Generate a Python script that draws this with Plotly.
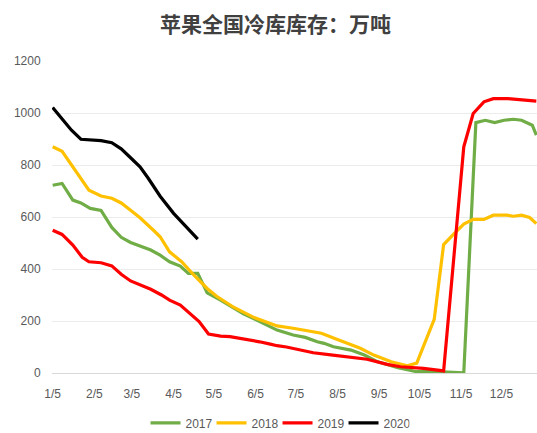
import plotly.graph_objects as go

YEAR = "2021"

dates_2017 = ["01-05", "01-12", "01-20", "01-26", "02-02", "02-10", "02-18", "02-25", "03-04", "03-12",
              "03-19", "03-26", "04-02", "04-10", "04-16", "04-23", "04-30", "05-10", "05-20", "05-27",
              "06-04", "06-11", "06-21", "07-03", "07-12", "07-21", "07-26", "08-02", "08-15", "08-25",
              "09-04", "09-19", "10-03", "10-18", "11-07", "11-16", "11-23", "11-30", "12-07", "12-14",
              "12-20", "12-28", "12-31"]
values_2017 = [722, 729, 665, 654, 633, 625, 560, 522, 502, 485,
               473, 453, 428, 411, 383, 383, 308, 280, 250, 228,
               208, 191, 165, 146, 137, 120, 114, 101, 88, 69,
               43, 20, 5, 5, 1, 963, 972, 963, 972, 976,
               972, 953, 915]

dates_2018 = ["01-05", "01-12", "02-01", "02-10", "02-18", "02-25", "03-04", "03-11", "03-21", "03-26",
              "04-02", "04-11", "04-20", "04-30", "05-07", "05-20", "06-04", "06-21", "07-03", "07-12",
              "07-24", "08-03", "08-22", "09-01", "09-14", "09-26", "10-03", "10-16", "10-23", "10-31",
              "11-07", "11-14", "11-22", "11-29", "12-09", "12-14", "12-20", "12-26", "12-31"]
values_2018 = [870, 853, 703, 681, 672, 654, 626, 597, 549, 524,
               466, 428, 377, 325, 295, 252, 213, 181, 172, 163,
               153, 133, 95, 69, 43, 28, 38, 206, 494, 537,
               573, 591, 591, 607, 607, 603, 607, 598, 575]

dates_2019 = ["01-05", "01-12", "01-20", "01-27", "02-01", "02-10", "02-18", "02-25", "03-04", "03-12",
              "03-19", "03-27", "04-02", "04-10", "04-17", "04-24", "05-01", "05-10", "05-17", "05-25",
              "06-01", "06-08", "06-16", "06-21", "06-28", "07-11", "07-18", "07-31", "08-12", "08-27",
              "09-11", "09-21", "10-08", "10-23", "11-07", "11-14", "11-22", "11-29", "12-10", "12-21",
              "12-31"]
values_2019 = [549, 533, 492, 445, 428, 424, 412, 380, 354, 338,
               322, 300, 280, 261, 229, 198, 150, 142, 140, 133,
               128, 120, 111, 105, 100, 85, 78, 70, 63, 53,
               33, 24, 18, 8, 870, 998, 1043, 1055, 1055, 1050,
               1046]

dates_2020 = ["01-05", "01-12", "01-19", "01-26", "02-02", "02-10", "02-18", "02-25", "03-04", "03-11",
              "03-17", "03-26", "04-05", "04-11", "04-17", "04-23"]
values_2020 = [1021, 977, 934, 899, 896, 894, 886, 862, 828, 793,
               750, 680, 614, 580, 549, 515]

tick_dates = ["01-05", "02-05", "03-05", "04-05", "05-05", "06-05",
              "07-05", "08-05", "09-05", "10-05", "11-05", "12-05"]
tick_labels = ["1/5", "2/5", "3/5", "4/5", "5/5", "6/5",
               "7/5", "8/5", "9/5", "10/5", "11/5", "12/5"]

series = [
    ("2017", dates_2017, values_2017, "#70AD47"),
    ("2018", dates_2018, values_2018, "#FFC000"),
    ("2019", dates_2019, values_2019, "#FF0000"),
    ("2020", dates_2020, values_2020, "#000000"),
]


def full(ds):
    return [f"{YEAR}-{d}" for d in ds]


fig = go.Figure()
for name, ds, vs, color in series:
    fig.add_trace(go.Scatter(x=full(ds), y=vs, name=name, mode="lines",
                             line=dict(color=color, width=3.2)))

fig.update_layout(
    width=537, height=433,
    paper_bgcolor="white", plot_bgcolor="white",
    margin=dict(l=52, r=0, t=61, b=60, autoexpand=False),
    font=dict(family="Liberation Sans, Arial, sans-serif", size=12, color="#595959"),
    title=dict(text="<b>苹果全国冷库库存：万吨</b>",
               font=dict(family="Noto Sans CJK SC", size=21, color="#404040"),
               x=0.513, xref="container", xanchor="center",
               y=0.942, yref="container", yanchor="middle"),
    showlegend=True,
    legend=dict(orientation="h", x=0.465, xanchor="center", xref="paper",
                y=-0.16, yanchor="middle",
                font=dict(size=12, color="#595959"),
                entrywidth=21, entrywidthmode="pixels",
                itemwidth=30, traceorder="normal"),
    xaxis=dict(type="date",
               range=[f"{YEAR}-01-04 12:00", f"{YEAR}-12-31 12:00"],
               tickmode="array", tickvals=full(tick_dates), ticktext=tick_labels,
               showgrid=False, zeroline=False,
               showline=True, linecolor="#d9d9d9", linewidth=1,
               ticks="outside", ticklen=10, tickcolor="rgba(0,0,0,0)",
               tickfont=dict(size=12, color="#595959")),
    yaxis=dict(range=[0, 1200], tickvals=[0, 200, 400, 600, 800, 1000, 1200],
               showgrid=True, gridcolor="#ececec", gridwidth=1,
               zeroline=False, showline=False,
               ticks="outside", ticklen=8, tickcolor="rgba(0,0,0,0)",
               tickfont=dict(size=12, color="#595959")),
)

fig.write_html("out.html", config={"displayModeBar": False},
               post_script="document.body.style.margin='0';document.body.style.overflow='hidden';")
